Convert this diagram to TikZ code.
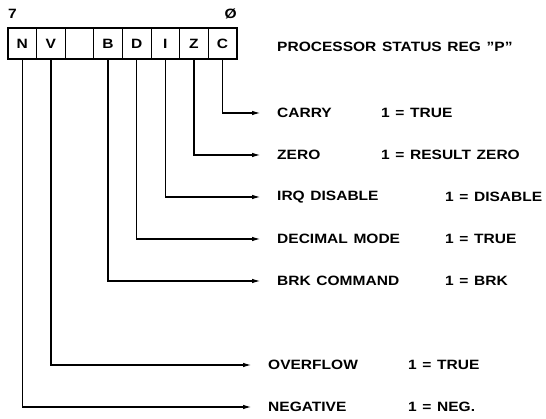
\documentclass[tikz,border=0pt]{standalone}
\usepackage{fontspec}
\setmainfont{Liberation Sans}
\newfontfamily\regfamily{Liberation Sans}[FakeStretch=1.15, Ligatures=TeX, WordSpace=1.3]
\usetikzlibrary{arrows.meta}

\tikzset{
	regfont/.style={font=\regfamily\bfseries\fontsize{13.5}{14}\selectfont},
	bitcell/.style={draw, line width=0.8pt, minimum width=28.6pt,
		minimum height=31pt, inner sep=0pt, regfont},
	flagtext/.style={anchor=west, inner sep=0pt, regfont},
	flagline/.style={line width=1.5pt, -{Latex[length=9pt,width=4.5pt]},
		shorten >=16pt},
}

\begin{document}
\begin{tikzpicture}[x=1pt, y=-1pt]
		% Page frame, same size as the reference
		\useasboundingbox (0,0) rectangle (546,419);
		% The eight bits of the register, bit 7 on the left
		\foreach \bit/\name [count=\i] in {N/n, V/v, {}/free, B/b, D/d, I/i, Z/z, C/c}
			\node[bitcell] (cell-\name) at ({8+28.6*(\i-0.5)},43.5) {\bit};
		% Heavier outline round the whole register
		\draw[line width=2pt] (cell-n.north west) rectangle (cell-c.south east);
		\node[regfont, anchor=south west, inner sep=0pt] (msb) at (8,19) {7};
		\node[regfont, anchor=south east, inner sep=0pt] (lsb) at (237,19) {Ø};
		\node[flagtext] (title) at (277,47) {PROCESSOR STATUS REG ''P''};
		% Flag names and their meanings
		\node[flagtext] (carry) at (277,113) {CARRY};
		\node[flagtext] (carry val) at (381,113) {1 = TRUE};
		\node[flagtext] (zero) at (277,155) {ZERO};
		\node[flagtext] (zero val) at (381,155) {1 = RESULT ZERO};
		\node[flagtext] (irq) at (277,197) {IRQ DISABLE};
		\node[flagtext] (irq val) at (445,197) {1 = DISABLE};
		\node[flagtext] (decimal) at (277,239) {DECIMAL MODE};
		\node[flagtext] (decimal val) at (445,239) {1 = TRUE};
		\node[flagtext] (brk) at (277,281) {BRK COMMAND};
		\node[flagtext] (brk val) at (445,281) {1 = BRK};
		\node[flagtext] (overflow) at (268,365) {OVERFLOW};
		\node[flagtext] (overflow val) at (408,365) {1 = TRUE};
		\node[flagtext] (negative) at (268,407) {NEGATIVE};
		\node[flagtext] (negative val) at (408,407) {1 = NEG.};
		% Leaders from each bit down and across to its name
		\draw[flagline] (cell-c.south) |- (carry.west);
		\draw[flagline] (cell-z.south) |- (zero.west);
		\draw[flagline] (cell-i.south) |- (irq.west);
		\draw[flagline] (cell-d.south) |- (decimal.west);
		\draw[flagline] (cell-b.south) |- (brk.west);
		\draw[flagline] (cell-v.south) |- (overflow.west);
		\draw[flagline] (cell-n.south) |- (negative.west);
	\end{tikzpicture}
\end{document}
